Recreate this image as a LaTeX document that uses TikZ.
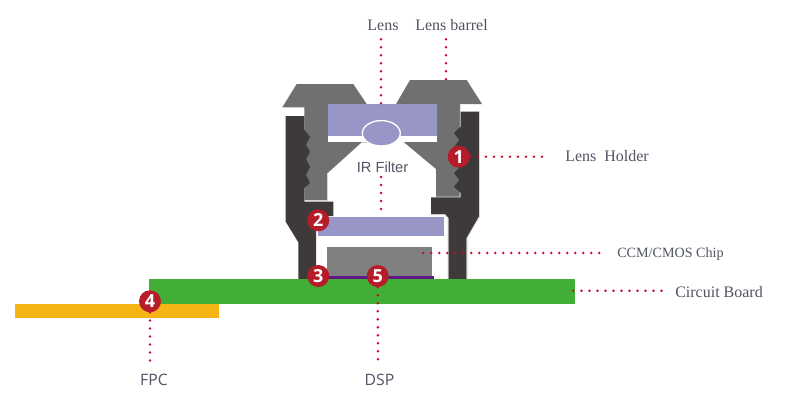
\documentclass[tikz,border=0pt]{standalone}
\usepackage{fontspec}
\setmainfont{Liberation Serif}
\setsansfont{Open Sans}
\newfontfamily\irfont{Liberation Sans}
\usepackage{xcolor}
\usetikzlibrary{positioning, calc}
\definecolor{CamBarrel}{RGB}{112, 112, 112}
\definecolor{CamHolder}{RGB}{62, 58, 57}
\definecolor{CamEdge}{RGB}{215, 215, 215}
\definecolor{CamLens}{RGB}{152, 150, 198}
\definecolor{CamChip}{RGB}{128, 128, 128}
\definecolor{CamDsp}{RGB}{91, 26, 133}
\definecolor{CamBoard}{RGB}{66, 174, 53}
\definecolor{CamFpc}{RGB}{245, 181, 21}
\definecolor{CamBadge}{RGB}{183, 28, 43}
\definecolor{CamDot}{RGB}{205, 10, 45}
\definecolor{CamText}{RGB}{80, 84, 100}
\tikzset{
  leaderdots/.style={CamDot, line width=2.1pt, line cap=round, dash pattern=on 0pt off 6pt},
  badge/.style={circle, fill=CamBadge, text=white, inner sep=0pt, minimum size=16.5pt, font=\fontsize{13.5}{13.5}\selectfont\sffamily\bfseries},
  partlabel/.style={text=CamText, inner sep=0pt, font=\fontsize{12}{14}\selectfont},
  sanslabel/.style={text=CamText, inner sep=0pt, font=\fontsize{11.8}{14}\selectfont\sffamily}
}

\begin{document}
\begin{tikzpicture}[x=0.75pt,y=-0.75pt]
  \path[use as bounding box] (0,0) rectangle (785,404);
  \fill[white] (0,0) rectangle (785,404);

  % Lens barrel, two halves
  \fill[CamBarrel] (282.3,107.3) -- (296.7,84) -- (353.3,84) -- (366.7,104) -- (367,142.3) -- (361.7,142.3)
    -- (327.7,173) -- (327.7,200) -- (304.3,200) -- (304.3,107.3) -- cycle;
  \fill[CamBarrel] (396,104) -- (410,80) -- (466.7,80) -- (482,104) -- (460,104) -- (460,197)
    -- (436,197) -- (436,169) -- (403.3,141.7) -- (396,141.7) -- cycle;
  \draw[CamEdge, line width=0.6pt] (304.3,200) -- (327.7,200) -- (327.7,173);
  \draw[CamEdge, line width=0.6pt] (436,197) -- (460,197) -- (460.3,104);

  % Lens and its white seat
  \fill[CamLens] (328.3,104.3) rectangle (436.7,136);
  \fill[white] (328.3,136) rectangle (436.7,142.3);
  \draw[white, line width=1pt, fill=CamLens] (381.3,133.3) ellipse (19 and 12.7);

  % Lens holder, two halves with threads
  \fill[CamHolder] (285.7,116) -- (304.3,116) -- (304.3,130) -- (310,136.7) -- (306,145) -- (310,151.7) -- (306,159)
    -- (310,166.7) -- (306,175) -- (310,183) -- (304.3,188) -- (304.3,201.7) -- (333.3,201.7) -- (333.3,216)
    -- (316,216) -- (316,279) -- (298.3,279) -- (298.3,242.3) -- (285.7,221.7) -- cycle;
  \fill[CamHolder] (479,111.7) -- (460.7,111.7) -- (460.7,126.7) -- (454,133) -- (459.3,140) -- (454,147) -- (459.3,155)
    -- (454,163) -- (459.3,168) -- (454,173) -- (459.3,180) -- (454,186.7) -- (460.7,193) -- (460.7,197.3)
    -- (431,197.3) -- (431,214.3) -- (445,214.3) -- (448.3,218) -- (448.3,279) -- (466.7,279) -- (466.7,238)
    -- (479,216.7) -- cycle;
  \draw[CamEdge, line width=0.6pt] (479.4,111.7) -- (479.4,216.7) -- (467.1,238) -- (467.1,279);
  \draw[CamEdge, line width=0.6pt] (431,214.7) -- (445,214.7) -- (447.9,218) -- (447.9,279);

  % Filter, chip, DSP
  \fill[CamLens] (317.7,217) rectangle (444,235.7);
  \fill[CamChip] (327,247) rectangle (432,276);
  \fill[CamDsp] (327,276) rectangle (434,280);

  % Boards
  \fill[CamBoard] (149,279) rectangle (575,304);
  \fill[CamFpc] (15,304) rectangle (219,318);

  % Labels
  \node[partlabel] (lensLabel) at (383,25) {Lens};
  \node[partlabel] (barrelLabel) at (451.5,25) {Lens barrel};
  \node[partlabel, anchor=west] (holderLabel) at (565,156.5) {Lens\ \ Holder};
  \node[partlabel, anchor=west, font=\fontsize{10.6}{12}\selectfont] (chipLabel) at (617,254.5) {CCM/CMOS Chip};
  \node[partlabel, anchor=west] (boardLabel) at (675,292.5) {Circuit Board};
  \node[sanslabel] (fpcLabel) at (154,380) {FPC};
  \node[sanslabel] (dspLabel) at (379.5,380) {DSP};
  \node[text=CamText, inner sep=0pt, font=\fontsize{11}{13}\selectfont\irfont] (irLabel) at (382.5,167) {IR Filter};

  % Numbered badges
  \foreach \bname/\bpos/\bnum in {bTwo/{318.3,220.3}/2, bThree/{318.3,276}/3, bOne/{458.7,156.7}/1, bFour/{150,301.3}/4, bFive/{377.7,276}/5}{
    \node[badge] (\bname) at (\bpos) {\bnum};
  }

  % Free ends of the leaders
  \coordinate (lensEnd) at (381,104);
  \coordinate (lensTop) at (381,39.3);
  \coordinate (barrelEnd) at (446,80);
  \coordinate (barrelTop) at (446,39.3);
  \coordinate (irTop) at (381,177);
  \coordinate (irEnd) at (381,214);
  \coordinate (chipStart) at (423.3,253);
  \coordinate (chipEnd) at (602,253);
  \coordinate (boardStart) at (573.5,290.7);
  \coordinate (boardEnd) at (666,290.7);
  \coordinate (holderEnd) at (548,156.7);
  \coordinate (fpcEnd) at (150,366);
  \coordinate (dspEnd) at (378,365);

  % Dotted leaders
  \foreach \from/\to in {lensTop/lensEnd, barrelTop/barrelEnd, irTop/irEnd, bOne/holderEnd, chipStart/chipEnd, boardStart/boardEnd, bFour/fpcEnd, bFive/dspEnd}{
    \draw[leaderdots] (\from) -- (\to);
  }
\end{tikzpicture}
\end{document}
